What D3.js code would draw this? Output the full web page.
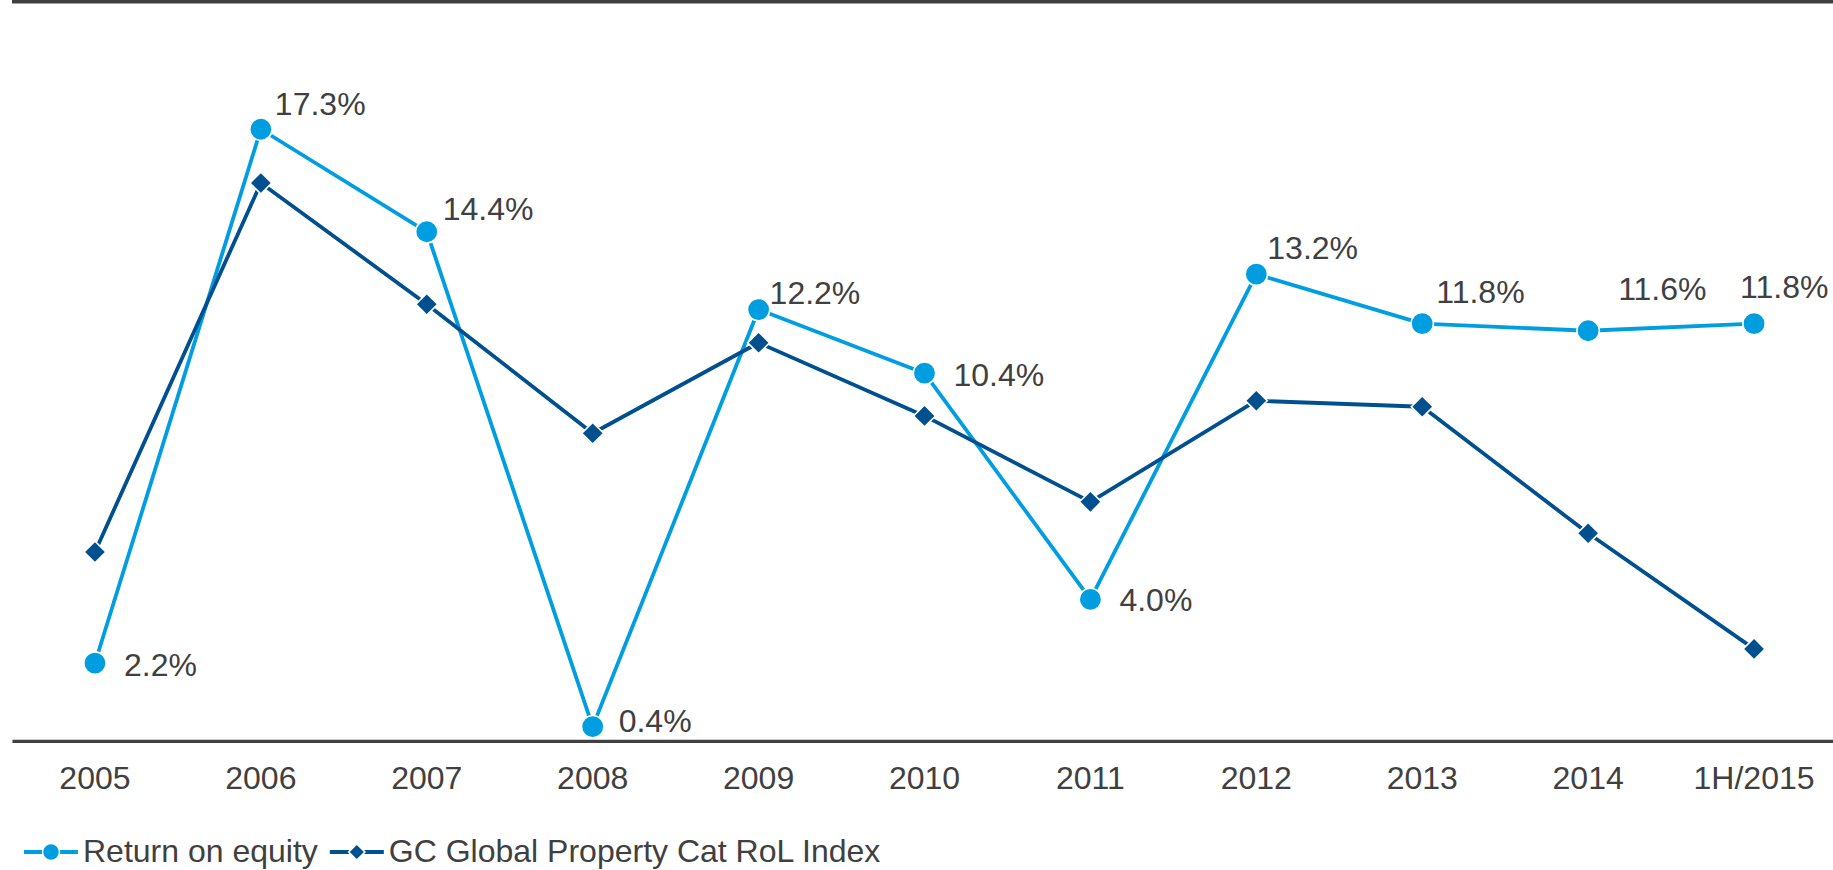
<!DOCTYPE html>
<html>
<head>
<meta charset="utf-8">
<script src="https://cdn.jsdelivr.net/npm/d3@7/dist/d3.min.js"></script>
<style>
  html, body { margin: 0; padding: 0; background: #fff; }
  svg { display: block; font-family: "Liberation Sans", Arial, Helvetica, sans-serif; }
</style>
</head>
<body>
<svg id="chart" width="1833" height="870"></svg>
<script>
// Categories (years) along the x axis
const years = ["2005", "2006", "2007", "2008", "2009", "2010", "2011", "2012", "2013", "2014", "1H/2015"];

// Return on equity, in percent
const returnOnEquity = [2.2, 17.3, 14.4, 0.4, 12.2, 10.4, 4.0, 13.2, 11.8, 11.6, 11.8];

// GC Global Property Cat RoL Index, expressed on the same vertical scale
const rolIndex = [5.34, 15.78, 12.35, 8.70, 11.26, 9.19, 6.76, 9.62, 9.45, 5.87, 2.60];

const seriesNames = ["Return on equity", "GC Global Property Cat RoL Index"];

// Placement of each value label relative to its point: [dx, baseline dy]
const labelOffsets = [
  [29, 13], [14, -14], [16, -12], [26, 5], [11, -6], [29, 13],
  [29, 12], [11, -15], [14, -21], [30, -31], [-14, -26]
];

const W = 1833, H = 870;
const left = 12, right = 1837;
const baseY = 740.8;
const colors = { roe: "#009ee0", rol: "#00508f", text: "#404040", axis: "#404040" };
const fontSize = 32;

const svg = d3.select("#chart");

const x = d3.scaleBand().domain(years).range([left, right]).padding(0);
const cx = d => x(d) + x.bandwidth() / 2;
const y = d3.scaleLinear().domain([0, 21]).range([baseY, baseY - 21 * 35.35]);

// Frame rule along the top of the plot
svg.append("line")
  .attr("x1", left).attr("x2", W)
  .attr("y1", 1.75).attr("y2", 1.75)
  .attr("stroke", colors.axis).attr("stroke-width", 3.5);

// Category axis
const xAxis = svg.append("g")
  .attr("transform", `translate(0,${baseY})`)
  .call(d3.axisBottom(x).tickSize(0).tickSizeOuter(0));
xAxis.select(".domain").attr("stroke", colors.axis).attr("stroke-width", 3.2);
xAxis.selectAll(".tick text")
  .attr("y", 48.5).attr("dy", null)
  .attr("fill", colors.text)
  .style("font-size", fontSize + "px")
  .style("font-family", "'Liberation Sans', Arial, sans-serif");

const line = d3.line().x(d => cx(d.year)).y(d => y(d.value));
const roeData = years.map((year, i) => ({ year, value: returnOnEquity[i], i }));
const rolData = years.map((year, i) => ({ year, value: rolIndex[i], i }));

const diamond = d3.symbol().type(d3.symbolSquare);

// Return on equity series
const gRoe = svg.append("g");
gRoe.append("path").datum(roeData)
  .attr("d", line).attr("fill", "none")
  .attr("stroke", colors.roe).attr("stroke-width", 3.8).attr("stroke-linejoin", "round");
gRoe.selectAll("circle").data(roeData).join("circle")
  .attr("cx", d => cx(d.year)).attr("cy", d => y(d.value))
  .attr("r", 11.2)
  .attr("fill", colors.roe).attr("stroke", "#fff").attr("stroke-width", 1.6);

// RoL index series
const gRol = svg.append("g");
gRol.append("path").datum(rolData)
  .attr("d", line).attr("fill", "none")
  .attr("stroke", colors.rol).attr("stroke-width", 3.8).attr("stroke-linejoin", "round");
gRol.selectAll("path.marker").data(rolData).join("path")
  .attr("class", "marker")
  .attr("d", diamond.size(15.5 * 15.5)())
  .attr("transform", d => `translate(${cx(d.year)},${y(d.value)}) rotate(45)`)
  .attr("fill", colors.rol).attr("stroke", "#fff").attr("stroke-width", 1.6);

// Value labels on the return on equity points
svg.append("g").selectAll("text").data(roeData).join("text")
  .attr("x", d => cx(d.year) + labelOffsets[d.i][0])
  .attr("y", d => y(d.value) + labelOffsets[d.i][1])
  .attr("fill", colors.text)
  .style("font-size", fontSize + "px")
  .text(d => d.value.toFixed(1) + "%");

// Legend
const legendY = 852;
const legend = svg.append("g");
let lx = 24;
seriesNames.forEach((name, i) => {
  const c = i === 0 ? colors.roe : colors.rol;
  legend.append("line")
    .attr("x1", lx).attr("x2", lx + 54)
    .attr("y1", legendY).attr("y2", legendY)
    .attr("stroke", c).attr("stroke-width", 3.8);
  if (i === 0) {
    legend.append("circle")
      .attr("cx", lx + 27).attr("cy", legendY).attr("r", 8.5)
      .attr("fill", c).attr("stroke", "#fff").attr("stroke-width", 1.5);
  } else {
    legend.append("path")
      .attr("d", diamond.size(11.5 * 11.5)())
      .attr("transform", `translate(${lx + 27},${legendY}) rotate(45)`)
      .attr("fill", c).attr("stroke", "#fff").attr("stroke-width", 1.5);
  }
  const t = legend.append("text")
    .attr("x", lx + 59).attr("y", legendY + 10)
    .attr("fill", colors.text)
    .style("font-size", fontSize + "px")
    .text(name);
  lx = lx + 59 + t.node().getComputedTextLength() + 12;
});
</script>
</body>
</html>
